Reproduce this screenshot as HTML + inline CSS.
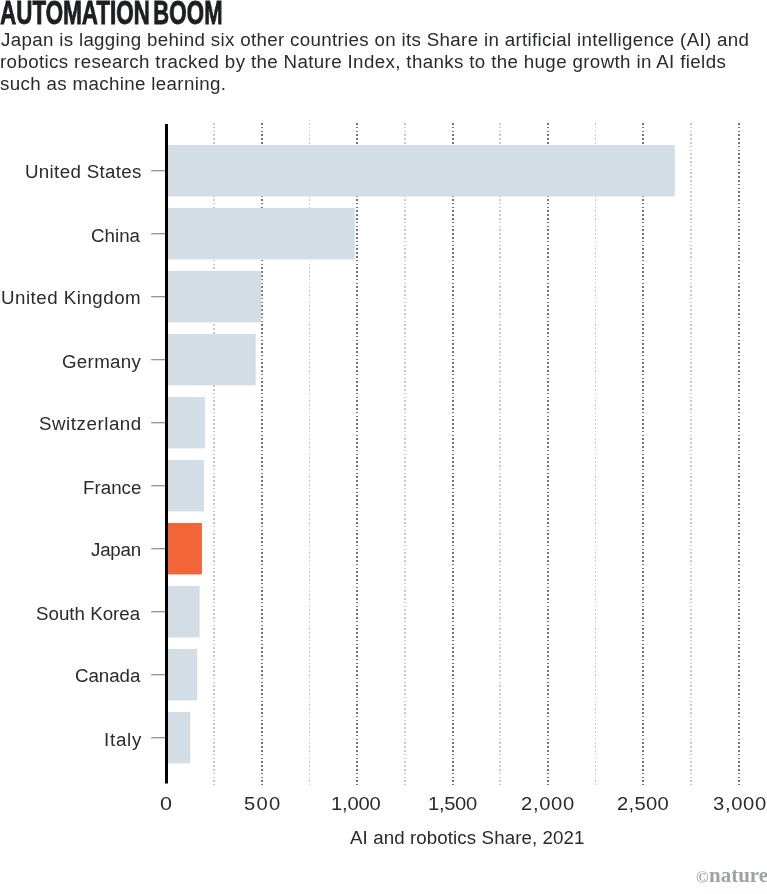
<!DOCTYPE html>
<html><head><meta charset="utf-8"><style>
*{margin:0;padding:0;box-sizing:border-box}
html,body{width:767px;height:894px;background:#fff;overflow:hidden;position:relative}
body{font-family:"Liberation Sans",sans-serif;color:#26292c}
.a{position:absolute;white-space:nowrap;will-change:transform;line-height:40px;font-size:18px}
.title{font-weight:bold;font-size:32.5px;line-height:40px;color:#1c1e21;transform-origin:0 0;transform:scaleX(0.690);-webkit-text-stroke:0.8px #1c1e21}
.sub{color:#292b2e}
.lab{color:#292b2e}
.tick{color:#292b2e}
.bar{position:absolute}
.glight{position:absolute;width:1.5px;background:repeating-linear-gradient(to bottom,#c8c8c8 0,#c8c8c8 1.6px,transparent 1.6px,transparent 3.8px)}
.gdark{position:absolute;width:2px;background:repeating-linear-gradient(to bottom,#747474 0,#747474 1.6px,transparent 1.6px,transparent 3.8px)}
.tk{position:absolute;height:1.2px;background:#8a8a8a;width:14px}
.logo{font-family:"Liberation Serif",serif;font-weight:bold;color:#9ea3a6}
</style></head><body>
<div class="a title" style="left:-0.4px;top:-7px">AUTOMATION</div>
<div class="a title" style="left:152.6px;top:-7px">BOOM</div>
<div class="a sub" style="left:1.00px;top:20px;letter-spacing:0.317px;transform:scaleX(1.040);transform-origin:0 0;">Japan is lagging behind six other countries on its Share in artificial intelligence (AI) and</div>
<div class="a sub" style="left:-0.04px;top:42px;letter-spacing:0.351px;transform:scaleX(1.040);transform-origin:0 0;">robotics research tracked by the Nature Index, thanks to the huge growth in AI fields</div>
<div class="a sub" style="left:-0.04px;top:64px;letter-spacing:0.339px;transform:scaleX(1.040);transform-origin:0 0;">such as machine learning.</div>
<div class="a lab" style="left:25.36px;top:152px;letter-spacing:0.325px;transform:scaleX(1.040);transform-origin:0 0;">United States</div>
<div class="a lab" style="left:90.86px;top:216px;letter-spacing:0.014px;transform:scaleX(1.040);transform-origin:0 0;">China</div>
<div class="a lab" style="left:1.26px;top:278px;letter-spacing:0.478px;transform:scaleX(1.040);transform-origin:0 0;">United Kingdom</div>
<div class="a lab" style="left:61.96px;top:342px;letter-spacing:0.301px;transform:scaleX(1.040);transform-origin:0 0;">Germany</div>
<div class="a lab" style="left:39.06px;top:404px;letter-spacing:0.525px;transform:scaleX(1.040);transform-origin:0 0;">Switzerland</div>
<div class="a lab" style="left:83.06px;top:468px;letter-spacing:0.027px;transform:scaleX(1.040);transform-origin:0 0;">France</div>
<div class="a lab" style="left:90.90px;top:530px;letter-spacing:-0.197px;transform:scaleX(1.040);transform-origin:0 0;">Japan</div>
<div class="a lab" style="left:36.16px;top:594px;letter-spacing:0.004px;transform:scaleX(1.040);transform-origin:0 0;">South Korea</div>
<div class="a lab" style="left:74.86px;top:656px;letter-spacing:-0.035px;transform:scaleX(1.040);transform-origin:0 0;">Canada</div>
<div class="a lab" style="left:103.52px;top:720px;letter-spacing:0.712px;transform:scaleX(1.040);transform-origin:0 0;">Italy</div>
<div class="a tick" style="left:160.05px;top:784px;letter-spacing:0.000px;transform:scaleX(1.200);transform-origin:0 0;">0</div>
<div class="a tick" style="left:243.98px;top:784px;letter-spacing:1.179px;transform:scaleX(1.120);transform-origin:0 0;">500</div>
<div class="a tick" style="left:331.18px;top:784px;letter-spacing:-0.170px;transform:scaleX(1.120);transform-origin:0 0;">1,000</div>
<div class="a tick" style="left:427.58px;top:784px;letter-spacing:-0.281px;transform:scaleX(1.120);transform-origin:0 0;">1,500</div>
<div class="a tick" style="left:521.08px;top:784px;letter-spacing:0.612px;transform:scaleX(1.120);transform-origin:0 0;">2,000</div>
<div class="a tick" style="left:617.38px;top:784px;letter-spacing:0.254px;transform:scaleX(1.120);transform-origin:0 0;">2,500</div>
<div class="a tick" style="left:713.28px;top:784px;letter-spacing:0.612px;transform:scaleX(1.120);transform-origin:0 0;">3,000</div>
<div class="a sub" style="left:350.20px;top:818px;letter-spacing:0.089px;transform:scaleX(1.040);transform-origin:0 0;">AI and robotics Share, 2021</div>
<div class="glight" style="left:213.37px;top:122.9px;height:662.1px"></div>
<div class="gdark" style="left:261.03px;top:122.9px;height:662.1px"></div>
<div class="glight" style="left:308.70px;top:122.9px;height:662.1px"></div>
<div class="gdark" style="left:356.37px;top:122.9px;height:662.1px"></div>
<div class="glight" style="left:404.04px;top:122.9px;height:662.1px"></div>
<div class="gdark" style="left:451.70px;top:122.9px;height:662.1px"></div>
<div class="glight" style="left:499.37px;top:122.9px;height:662.1px"></div>
<div class="gdark" style="left:547.04px;top:122.9px;height:662.1px"></div>
<div class="glight" style="left:594.71px;top:122.9px;height:662.1px"></div>
<div class="gdark" style="left:642.38px;top:122.9px;height:662.1px"></div>
<div class="glight" style="left:690.04px;top:122.9px;height:662.1px"></div>
<div class="gdark" style="left:737.71px;top:122.9px;height:662.1px"></div>
<svg style="position:absolute;left:0;top:0" width="767" height="894" viewBox="0 0 767 894"><rect x="168" y="145.00" width="506.80" height="51.4" fill="#d3dde6"/><rect x="151.2" y="170.10" width="14" height="1.2" fill="#8a8a8a"/><rect x="168" y="208.00" width="186.80" height="51.4" fill="#d3dde6"/><rect x="151.2" y="233.10" width="14" height="1.2" fill="#8a8a8a"/><rect x="168" y="271.00" width="93.30" height="51.4" fill="#d3dde6"/><rect x="151.2" y="296.10" width="14" height="1.2" fill="#8a8a8a"/><rect x="168" y="334.00" width="87.70" height="51.4" fill="#d3dde6"/><rect x="151.2" y="359.10" width="14" height="1.2" fill="#8a8a8a"/><rect x="168" y="397.00" width="36.90" height="51.4" fill="#d3dde6"/><rect x="151.2" y="422.10" width="14" height="1.2" fill="#8a8a8a"/><rect x="168" y="460.00" width="35.90" height="51.4" fill="#d3dde6"/><rect x="151.2" y="485.10" width="14" height="1.2" fill="#8a8a8a"/><rect x="168" y="523.00" width="33.90" height="51.4" fill="#f26539"/><rect x="151.2" y="548.10" width="14" height="1.2" fill="#8a8a8a"/><rect x="168" y="586.00" width="31.60" height="51.4" fill="#d3dde6"/><rect x="151.2" y="611.10" width="14" height="1.2" fill="#8a8a8a"/><rect x="168" y="649.00" width="29.20" height="51.4" fill="#d3dde6"/><rect x="151.2" y="674.10" width="14" height="1.2" fill="#8a8a8a"/><rect x="168" y="712.00" width="22.20" height="51.4" fill="#d3dde6"/><rect x="151.2" y="737.10" width="14" height="1.2" fill="#8a8a8a"/><rect x="165" y="124" width="3" height="659.5" fill="#000"/></svg>
<div class="a logo" style="left:696px;top:858px;font-size:17px;font-weight:bold">©</div>
<div class="a logo" style="left:709px;top:855px;font-size:21px;transform:scaleX(1.0);transform-origin:0 0">nature</div>
</body></html>
